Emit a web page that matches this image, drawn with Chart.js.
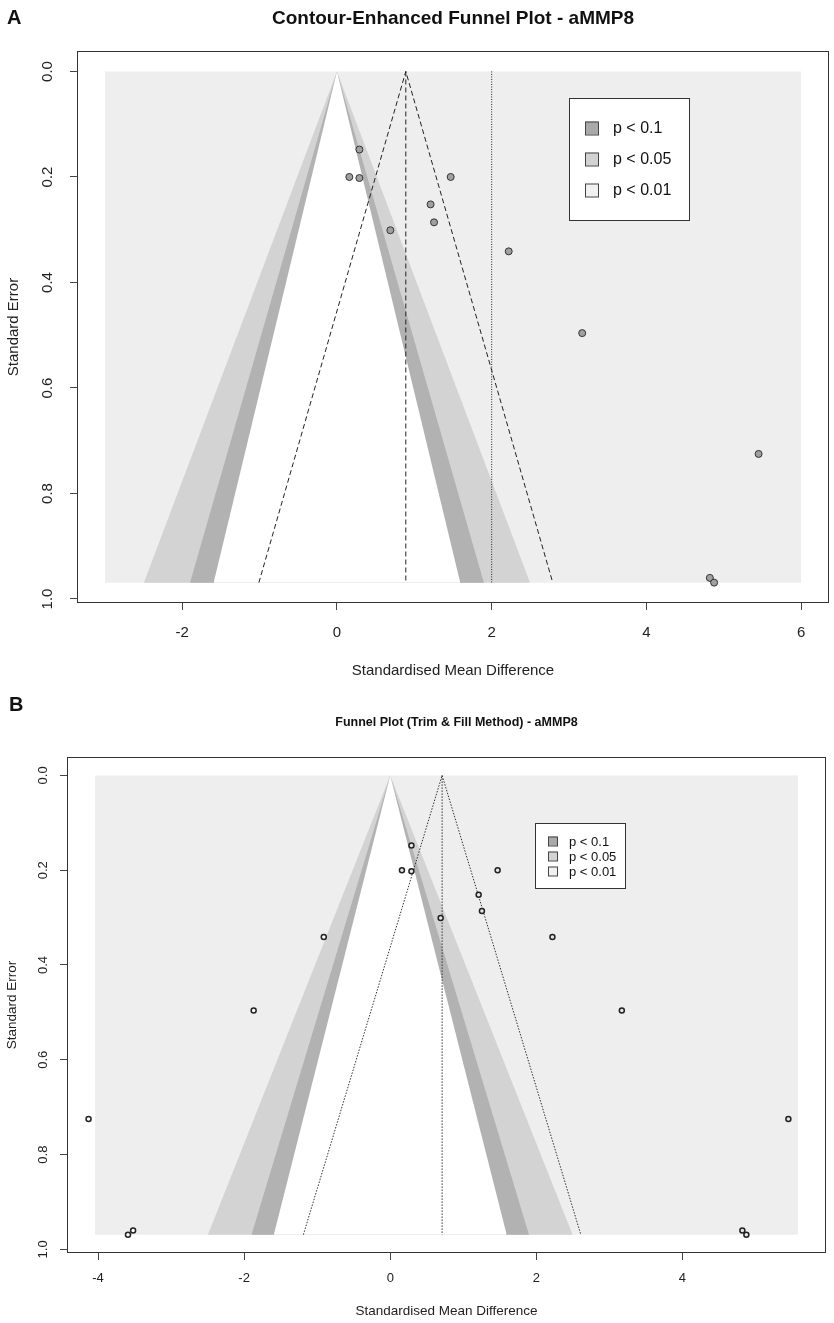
<!DOCTYPE html>
<html><head><meta charset="utf-8">
<script src="https://cdn.jsdelivr.net/npm/chart.js@4.4.1/dist/chart.umd.min.js"></script>
<style>
html,body{margin:0;padding:0;background:#fff;}
#cA{position:absolute;left:0;top:0;}
#cB{position:absolute;left:0;top:685px;}
</style></head><body>
<canvas id="cA" width="834" height="685"></canvas>
<canvas id="cB" width="834" height="638"></canvas>
<script>
// ---- data ----
const studySMD = [0.29, 0.16, 0.29, 0.69, 1.21, 1.255, 1.47, 2.22, 3.17, 5.45, 4.82, 4.875];
const studySE  = [0.148, 0.200, 0.202, 0.301, 0.252, 0.286, 0.200, 0.341, 0.496, 0.725, 0.960, 0.969];
const filledSMD = [-0.91, -1.87, -4.13, -3.52, -3.59];
const filledSE  = [0.341, 0.496, 0.725, 0.960, 0.969];
const contourZ = [1.645, 1.96, 2.576];
const contourLabels = ['p < 0.1', 'p < 0.05', 'p < 0.01'];
const maxSE = 0.969;
const estimateA = 0.89;
const estimateA2 = 2.0;
const estimateB = 0.71;
const shadeRangeA = [-3, 6];
const shadeRangeB = [-4.04, 5.58];
const xTicksA = [-2, 0, 2, 4, 6];
const xTicksB = [-4, -2, 0, 2, 4];
const yTicks = [0, 0.2, 0.4, 0.6, 0.8, 1.0];

const FAM = "'Liberation Sans', Arial, Helvetica, sans-serif";
const bandColors = ['#ffffff', '#b2b2b2', '#d3d3d3'];
const bgColor = '#eeeeee';
const legendColors = ['#a9a9a9', '#d2d2d2', '#f0f0f0'];

function pts(xs, ys) { return xs.map((x, i) => ({x: x, y: ys[i]})); }

function contourSets() {
  const defs = [
    {z: contourZ[0], color: bandColors[0], order: 3},
    {z: contourZ[1], color: bandColors[1], order: 4},
    {z: contourZ[2], color: bandColors[2], order: 5}
  ];
  return defs.map(d => ({
    type: 'line', showLine: true,
    data: [{x: -d.z * maxSE, y: maxSE}, {x: 0, y: 0}, {x: d.z * maxSE, y: maxSE}],
    fill: {value: maxSE}, backgroundColor: d.color, borderWidth: 0, borderColor: d.color,
    pointRadius: 0, order: d.order, tension: 0
  }));
}
function rectSet(r) {
  return {type: 'line', showLine: true, data: [{x: r[0], y: 0}, {x: r[1], y: 0}],
    fill: {value: maxSE}, backgroundColor: bgColor, borderWidth: 0, pointRadius: 0, order: 6};
}
function funnelLines(c, dash, color) {
  return [
    {type: 'line', showLine: true, data: [{x: c - 1.96 * maxSE, y: maxSE}, {x: c, y: 0}, {x: c + 1.96 * maxSE, y: maxSE}],
      borderColor: color, borderWidth: 1, borderDash: dash, pointRadius: 0, fill: false, order: 1},
    {type: 'line', showLine: true, data: [{x: c, y: 0}, {x: c, y: maxSE}],
      borderColor: color, borderWidth: 1, borderDash: dash, pointRadius: 0, fill: false, order: 1}
  ];
}

function panelPlugin(cfg) {
  return {
    id: 'panel' + cfg.letter,
    afterDraw(chart) {
      const {ctx, chartArea: a, scales} = chart;
      ctx.save();
      ctx.strokeStyle = '#333'; ctx.lineWidth = 1;
      ctx.strokeRect(Math.round(a.left) + 0.5, Math.round(a.top) + 0.5,
        Math.round(a.right - a.left) - 1, Math.round(a.bottom - a.top) - 1);
      const ys = scales.y;
      ctx.font = cfg.tickSize + 'px ' + FAM; ctx.fillStyle = '#222';
      ctx.textAlign = 'center'; ctx.textBaseline = 'middle';
      ys.ticks.forEach(t => {
        const py = ys.getPixelForValue(t.value);
        ctx.save(); ctx.translate(cfg.yLabelX, py); ctx.rotate(-Math.PI / 2);
        ctx.fillText(t.value.toFixed(1), 0, 0); ctx.restore();
      });
      ctx.font = 'bold ' + cfg.letterSize + 'px ' + FAM; ctx.fillStyle = '#111';
      ctx.textAlign = 'left';
      ctx.fillText(cfg.letter, cfg.letterX, cfg.letterY);
      ctx.font = 'bold ' + cfg.titleSize + 'px ' + FAM; ctx.textAlign = 'center';
      ctx.fillText(cfg.title, (a.left + a.right) / 2 + cfg.titleDX, cfg.titleY);
      const L = cfg.legend;
      ctx.fillStyle = '#fff'; ctx.fillRect(L.x, L.y, L.w, L.h);
      ctx.strokeStyle = '#333'; ctx.lineWidth = 1;
      ctx.strokeRect(L.x + 0.5, L.y + 0.5, L.w, L.h);
      ctx.font = L.size + 'px ' + FAM; ctx.textAlign = 'left';
      contourLabels.forEach((lab, i) => {
        const cy = L.rows[i];
        ctx.fillStyle = legendColors[i];
        ctx.fillRect(L.sqX, cy - L.sq / 2, L.sq, L.sq);
        ctx.strokeStyle = '#444';
        ctx.strokeRect(L.sqX + 0.5, cy - L.sq / 2 + 0.5, L.sq, L.sq);
        ctx.fillStyle = '#111';
        ctx.fillText(lab, L.textX, cy + 1);
      });
      ctx.restore();
    }
  };
}

function scalesFor(o) {
  const grid = {display: true, drawOnChartArea: false, drawTicks: true, tickLength: 7, color: '#444', lineWidth: 1};
  return {
    x: {type: 'linear', min: o.xmin, max: o.xmax,
      afterBuildTicks: s => { s.ticks = o.xTicks.map(v => ({value: v})); },
      afterFit: s => { s.height = o.xHeight; },
      grid: grid, border: {display: false},
      ticks: {font: {family: FAM, size: o.tickSize}, color: '#222', padding: o.xTickPad, maxRotation: 0, minRotation: 0,
        callback: v => String(v)},
      title: {display: true, text: 'Standardised Mean Difference', color: '#222',
        font: {family: FAM, size: o.axisTitleSize}, padding: {top: 0, bottom: o.xTitlePad}}
    },
    y: {type: 'linear', reverse: true, min: -0.0388, max: 1.0076,
      afterBuildTicks: s => { s.ticks = yTicks.map(v => ({value: v})); },
      afterFit: s => { s.width = o.yWidth; },
      grid: grid, border: {display: false},
      ticks: {font: {family: FAM, size: o.tickSize}, color: 'rgba(0,0,0,0)', callback: v => v.toFixed(1)},
      title: {display: true, text: 'Standard Error', color: '#222',
        font: {family: FAM, size: o.axisTitleSize}, padding: {top: o.yTitlePad, bottom: 0}}
    }
  };
}

// ---- Panel A ----
new Chart(document.getElementById('cA'), {
  type: 'scatter',
  data: {datasets: [
    {type: 'scatter', data: pts(studySMD, studySE), backgroundColor: '#a0a0a0', borderColor: '#333',
      borderWidth: 1, pointRadius: 3.5, order: 0},
    ...funnelLines(estimateA, [5, 3], '#222'),
    {type: 'line', showLine: true, data: [{x: estimateA2, y: 0}, {x: estimateA2, y: maxSE}],
      borderColor: '#222', borderWidth: 1, borderDash: [1, 1.5], pointRadius: 0, fill: false, order: 1},
    ...contourSets(),
    rectSet(shadeRangeA)
  ]},
  options: {
    responsive: false, animation: false, events: [],
    layout: {padding: {left: 0, right: 3, top: 51, bottom: 0}},
    plugins: {legend: {display: false}, tooltip: {enabled: false}},
    scales: scalesFor({xmin: -3.36, xmax: 6.36, xTicks: xTicksA, xHeight: 82, yWidth: 77,
      tickSize: 15, axisTitleSize: 15, xTickPad: 14, xTitlePad: 5, yTitlePad: 5})
  },
  plugins: [panelPlugin({letter: 'A', letterX: 7, letterY: 18, letterSize: 20,
    title: 'Contour-Enhanced Funnel Plot - aMMP8', titleSize: 19, titleY: 19, titleDX: 0, tickSize: 15, yLabelX: 48,
    legend: {x: 569, y: 98, w: 120, h: 122, size: 16, sq: 13, sqX: 585, textX: 613, rows: [128, 159, 190]}})]
});

// ---- Panel B ----
new Chart(document.getElementById('cB'), {
  type: 'scatter',
  data: {datasets: [
    {type: 'scatter', data: pts(studySMD, studySE), backgroundColor: '#e6e6e6', borderColor: '#222',
      borderWidth: 1.5, pointRadius: 2.5, order: 0},
    {type: 'scatter', data: pts(filledSMD, filledSE), backgroundColor: '#ffffff', borderColor: '#222',
      borderWidth: 1.5, pointRadius: 2.5, order: 0},
    ...funnelLines(estimateB, [1.5, 1.5], '#333'),
    ...contourSets(),
    rectSet(shadeRangeB)
  ]},
  options: {
    responsive: false, animation: false, events: [],
    layout: {padding: {left: 0, right: 8, top: 72, bottom: 0}},
    plugins: {legend: {display: false}, tooltip: {enabled: false}},
    scales: scalesFor({xmin: -4.425, xmax: 5.965, xTicks: xTicksB, xHeight: 70, yWidth: 67,
      tickSize: 13, axisTitleSize: 13.5, xTickPad: 11, xTitlePad: 4, yTitlePad: 4})
  },
  plugins: [panelPlugin({letter: 'B', letterX: 9, letterY: 20, letterSize: 20,
    title: 'Funnel Plot (Trim & Fill Method) - aMMP8', titleSize: 12.5, titleY: 38, titleDX: 10, tickSize: 13, yLabelX: 43,
    legend: {x: 535, y: 138, w: 90, h: 65, size: 13, sq: 9, sqX: 548, textX: 569, rows: [156, 171, 186]}})]
});
</script>
</body></html>
